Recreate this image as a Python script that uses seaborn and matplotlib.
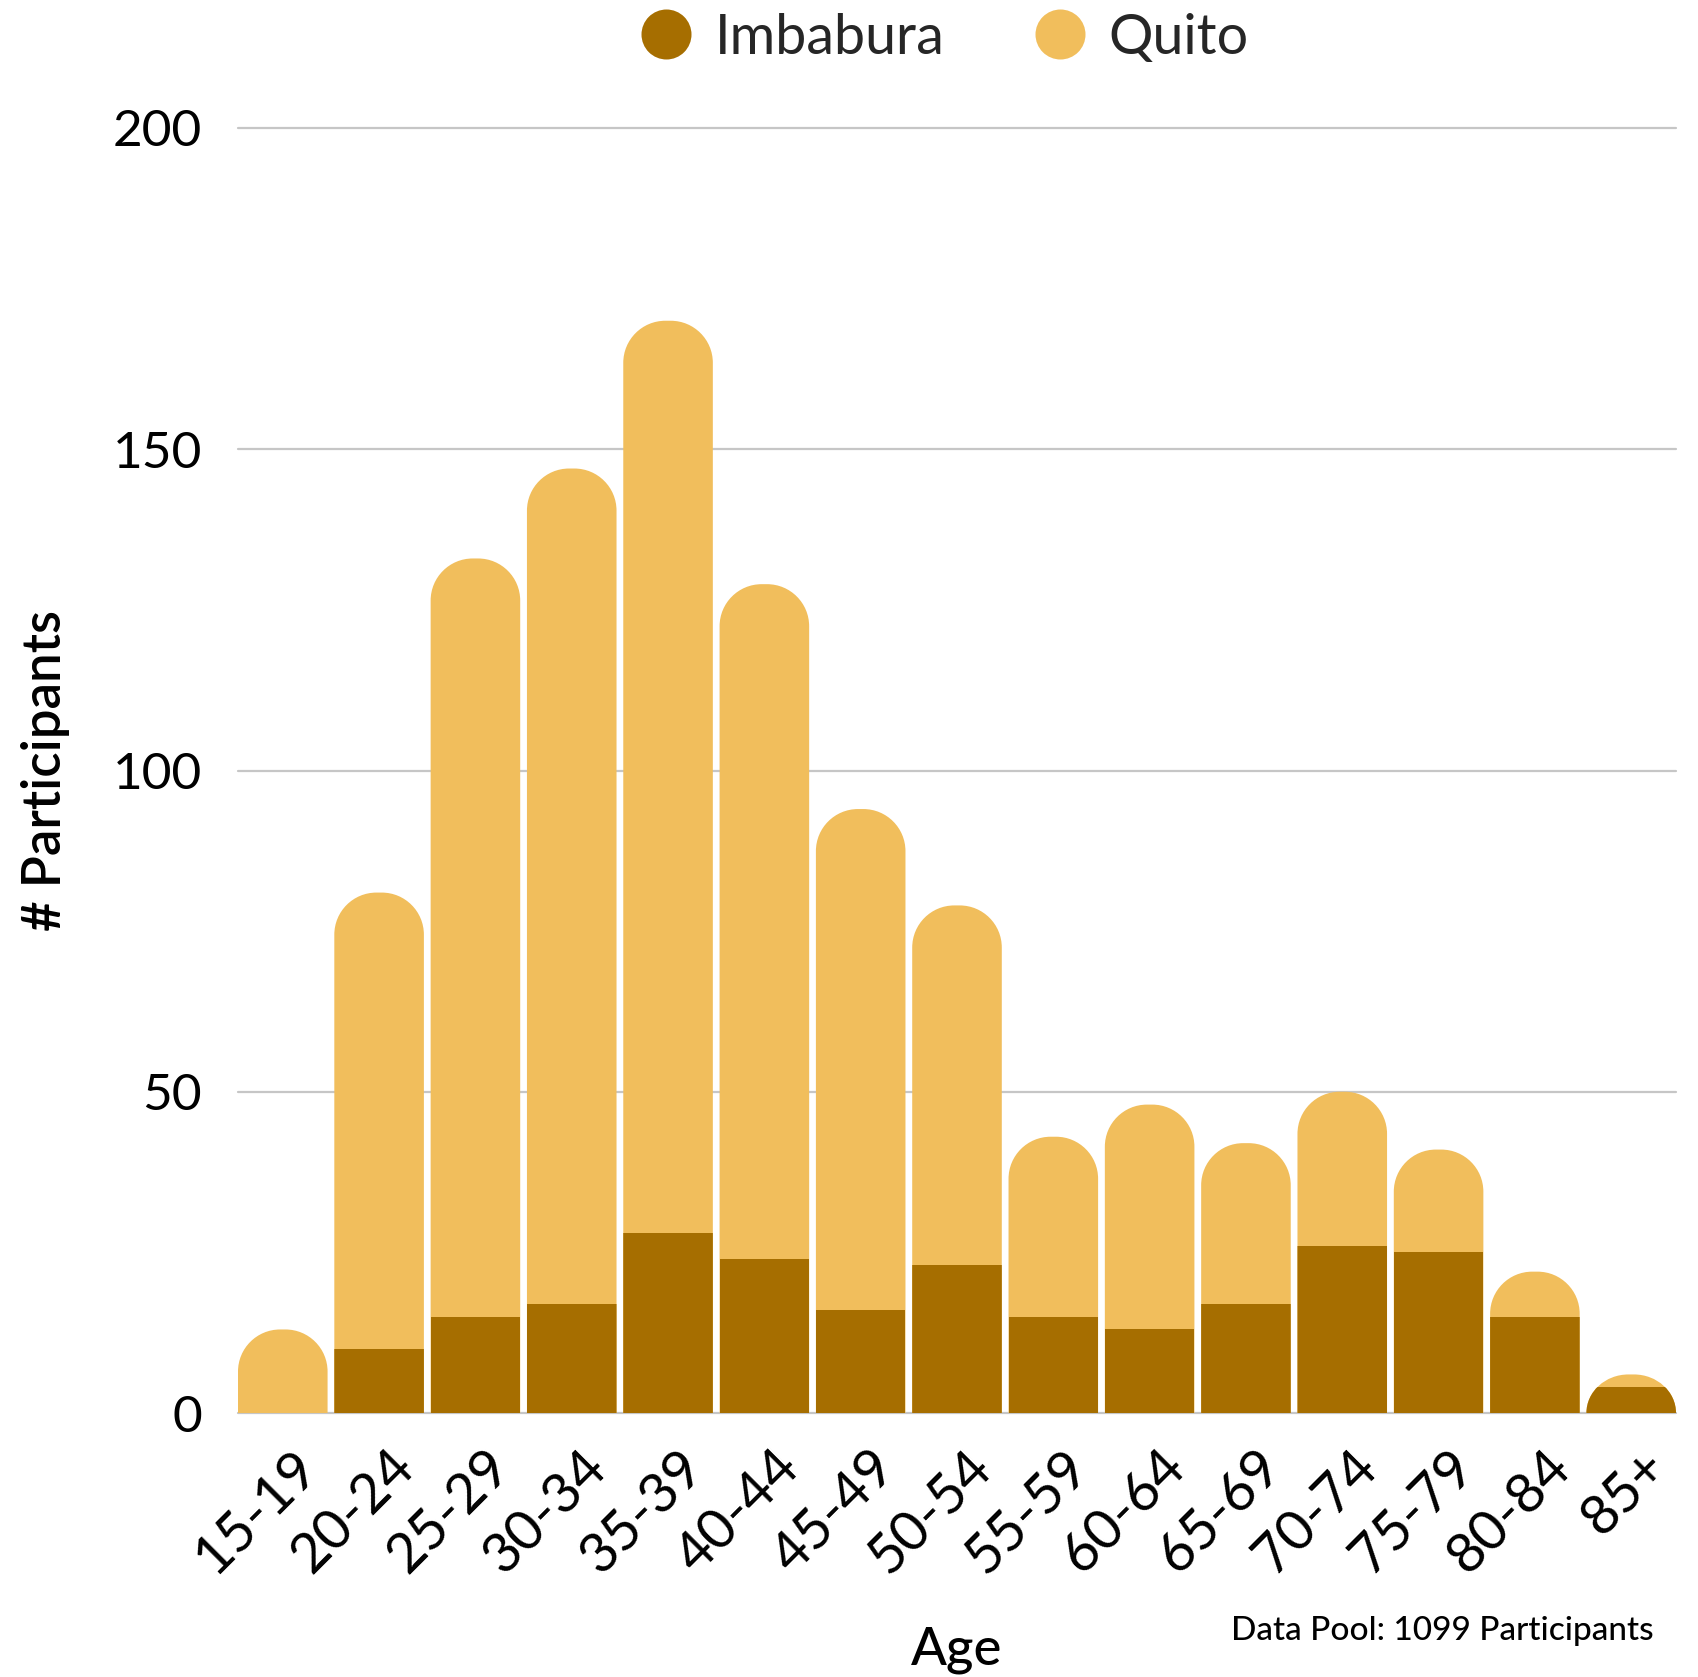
import numpy as np
import pandas as pd
import matplotlib
matplotlib.use("Agg")
import matplotlib.pyplot as plt
import matplotlib.transforms as mtransforms
from matplotlib.path import Path
from matplotlib.patches import PathPatch
from matplotlib.lines import Line2D
import seaborn as sns

# Participants per age group and site
age_groups = ["15-19", "20-24", "25-29", "30-34", "35-39", "40-44", "45-49",
              "50-54", "55-59", "60-64", "65-69", "70-74", "75-79", "80-84", "85+"]
imbabura = [0, 10, 15, 17, 28, 24, 16, 23, 15, 13, 17, 26, 25, 15, 4]
quito = [13, 71, 118, 130, 142, 105, 78, 56, 28, 35, 25, 24, 16, 7, 2]
series_names = ["Imbabura", "Quito"]
y_ticks = [0, 50, 100, 150, 200]
footnote = "Data Pool: 1099 Participants"

DARK = "#a66e00"
LIGHT = "#f1be5c"
FONT = ["Lato", "DejaVu Sans"]

sns.set_theme(style="white")
plt.rcParams["font.family"] = FONT

df = pd.DataFrame({"age": age_groups, "Imbabura": imbabura, "Quito": quito})
df["total"] = df["Imbabura"] + df["Quito"]

W, H, DPI = 1699, 1677, 100
fig = plt.figure(figsize=(W / DPI, H / DPI), dpi=DPI)
ax = fig.add_axes([238 / W, 1 - 1413 / H, 1438 / W, 1285 / H])

BAR_W = 0.93
# Stack: full height in the light colour, the lower segment in the dark colour
sns.barplot(data=df, x="age", y="total", color=LIGHT, saturation=1,
            width=BAR_W, ax=ax, zorder=2)
sns.barplot(data=df, x="age", y="Imbabura", color=DARK, saturation=1,
            width=BAR_W, ax=ax, zorder=3)

ax.set_xlim(-BAR_W / 2, len(age_groups) - 1 + BAR_W / 2)
ax.set_ylim(0, 200)
ax.set_yticks(y_ticks)

n = len(age_groups)
totals_patches = ax.patches[:n]
imb_patches = ax.patches[n:2 * n]

# pixel size of one data unit in each direction
p0 = ax.transData.transform((0, 0))
p1 = ax.transData.transform((1, 1))
px_x = p1[0] - p0[0]
px_y = p1[1] - p0[1]

K = 0.5523  # bezier constant for a quarter ellipse


def rounded_top(x0, w, h, r_px):
    """Bar outline with rounded top corners, in data coordinates."""
    x1 = x0 + w
    h_px = h * px_y
    rx = r_px / px_x
    ry = min(r_px, h_px) / px_y
    verts = [
        (x0, 0), (x0, h - ry),
        (x0, h - ry + K * ry), (x0 + rx - K * rx, h), (x0 + rx, h),
        (x1 - rx, h),
        (x1 - rx + K * rx, h), (x1, h - ry + K * ry), (x1, h - ry),
        (x1, 0), (x0, 0),
    ]
    codes = [Path.MOVETO, Path.LINETO,
             Path.CURVE4, Path.CURVE4, Path.CURVE4,
             Path.LINETO,
             Path.CURVE4, Path.CURVE4, Path.CURVE4,
             Path.LINETO, Path.CLOSEPOLY]
    return Path(verts, codes)


for tp, ip in zip(totals_patches, imb_patches):
    x0, w, h = tp.get_x(), tp.get_width(), tp.get_height()
    r_px = 0.47 * w * px_x
    shape = PathPatch(rounded_top(x0, w, h, r_px), facecolor=LIGHT,
                      edgecolor="none", zorder=2)
    ax.add_patch(shape)
    tp.set_visible(False)
    ip.set_edgecolor("none")
    ip.set_clip_path(shape)

# grid and spines
ax.yaxis.grid(True, color="#c6c6c6", linewidth=1.6)
ax.xaxis.grid(False)
ax.set_axisbelow(True)
for s in ax.spines.values():
    s.set_visible(False)
for gl in ax.get_ygridlines():
    gl.set_clip_on(False)

ax.tick_params(axis="y", length=0, pad=26, labelsize=37, labelcolor="black")
ax.tick_params(axis="x", length=0, pad=33, labelsize=40, labelcolor="black")
offset = mtransforms.ScaledTranslation(0.27, 0, fig.dpi_scale_trans)
for lab in ax.get_xticklabels():
    lab.set_rotation(45)
    lab.set_ha("right")
    lab.set_va("center")
    lab.set_rotation_mode("anchor")
    lab.set_transform(lab.get_transform() + offset)

ax.set_ylabel("# Participants", fontsize=38, fontweight="semibold", color="black")
ax.yaxis.set_label_coords((70 - 238) / 1438, 0.5)
ax.set_xlabel("Age", fontsize=38, fontweight="medium", color="black")
ax.xaxis.label.set_va("center")
ax.xaxis.set_label_coords(0.5, (1413 - 1650) / 1285)

fig.text(1654 / W, 1 - 1631 / H, footnote, ha="right", va="center",
         fontsize=24, fontweight="medium", color="black")

handles = [Line2D([], [], linestyle="none", marker="o", markersize=36,
                  markerfacecolor=c, markeredgecolor="none")
           for c in (DARK, LIGHT)]
fig.legend(handles, series_names, loc="center", ncol=2,
           bbox_to_anchor=(944 / W, 1 - 38 / H), frameon=False,
           fontsize=40, handlelength=0.95, handletextpad=0.4,
           columnspacing=1.6, borderpad=0)

fig.savefig("out.png", dpi=DPI)
